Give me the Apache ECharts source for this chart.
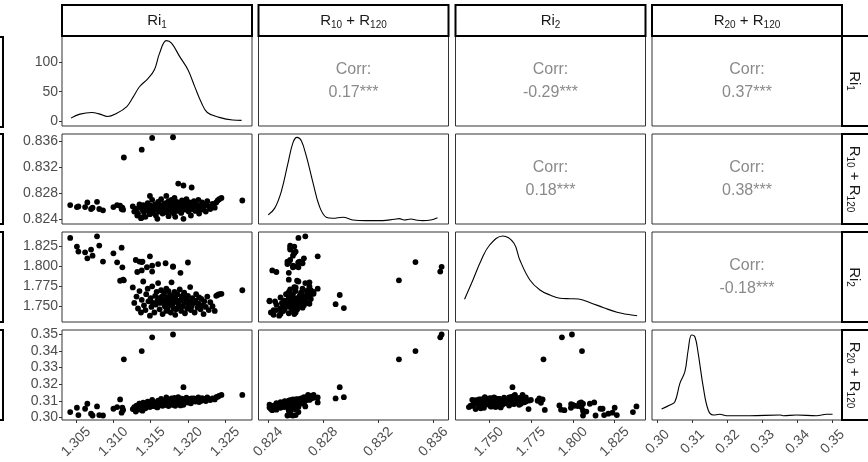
<!DOCTYPE html>
<html><head><meta charset="utf-8">
<script src="https://cdn.jsdelivr.net/npm/echarts@6/dist/echarts.min.js"></script>
<style>html,body{margin:0;padding:0;background:#fff}#c{width:868px;height:462px}</style>
</head><body><div id="c"></div>
<script>
// ---- observations (each index = one observation) ----
const ri1 = [
 1.3042,1.3051,1.3053,1.3062,1.3065,1.3070,1.3072,1.3078,1.3081,1.3086,
 1.3100,1.3105,1.3111,1.3112,1.3109,1.3113,1.3126,1.3130,1.3135,1.3139,1.3149,1.3132,1.3138,1.3145,1.3152,1.3160,1.3170,1.3180,1.3200,1.3190,
 1.3128,1.3131,1.3133,1.3135,1.3137,1.3138,1.3140,1.3141,1.3143,1.3144,1.3146,1.3147,1.3149,1.3150,1.3151,1.3152,1.3153,1.3155,1.3156,1.3157,
 1.3158,1.3159,1.3160,1.3161,1.3162,1.3163,1.3164,1.3165,1.3166,1.3167,1.3168,1.3169,1.3170,1.3171,1.3171,1.3172,1.3173,1.3174,1.3174,1.3175,
 1.3176,1.3176,1.3177,1.3178,1.3178,1.3179,1.3180,1.3181,1.3181,1.3182,1.3183,1.3183,1.3184,1.3185,1.3186,1.3187,1.3188,1.3189,1.3190,1.3191,
 1.3192,1.3193,1.3194,1.3195,1.3196,1.3197,1.3198,1.3199,1.3200,1.3201,1.3202,1.3203,1.3204,1.3205,1.3206,1.3208,1.3209,1.3210,1.3211,1.3213,
 1.3214,1.3215,1.3217,1.3218,1.3219,1.3221,1.3222,1.3224,1.3226,1.3228,1.3230,1.3233,1.3236,1.3238,1.3240,1.3242,1.3245,1.3273,
 1.3114,1.3138,1.3152,1.3180,1.3194,1.3187,1.3205
];
const r10 = [
 0.8262,0.8259,0.8260,0.8259,0.8266,0.8256,0.8258,0.8267,0.8256,0.8254,
 0.8259,0.8262,0.8256,0.8258,0.8261,0.8255,0.8260,0.8256,0.8263,0.8255,0.8276,0.8246,0.8243,0.8262,0.8258,0.8254,0.8265,0.8259,0.8262,0.8255,
 0.8252,0.8255,0.8249,0.8260,0.8242,0.8257,0.8262,0.8251,0.8244,0.8258,0.8265,0.8253,0.8248,0.8261,0.8256,0.8270,0.8250,0.8259,0.8263,0.8246,
 0.8255,0.8241,0.8267,0.8258,0.8252,0.8262,0.8271,0.8256,0.8249,0.8260,0.8264,0.8254,0.8258,0.8276,0.8251,0.8263,0.8257,0.8268,0.8245,0.8261,
 0.8255,0.8266,0.8259,0.8252,0.8270,0.8262,0.8256,0.8249,0.8264,0.8273,0.8258,0.8244,0.8261,0.8267,0.8253,0.8259,0.8265,0.8256,0.8262,0.8250,
 0.8269,0.8258,0.8241,0.8264,0.8255,0.8260,0.8271,0.8257,0.8263,0.8252,0.8266,0.8259,0.8246,0.8262,0.8256,0.8268,0.8260,0.8253,0.8264,0.8257,
 0.8270,0.8249,0.8261,0.8255,0.8266,0.8259,0.8263,0.8252,0.8268,0.8260,0.8256,0.8264,0.8258,0.8266,0.8269,0.8271,0.8273,0.8269,
 0.8335,0.8347,0.8365,0.8366,0.8292,0.8295,0.8289
];
const ri2 = [
 1.8359,1.8250,1.8187,1.8178,1.8102,1.8212,1.8136,1.8380,1.8263,1.8061,
 1.8165,1.8052,1.8237,1.7989,1.7820,1.7833,1.7736,1.8081,1.8061,1.8061,1.8128,1.7930,1.7950,1.7990,1.8010,1.8030,1.8040,1.8000,1.8050,1.7920,
 1.7540,1.7620,1.7470,1.7690,1.7420,1.7580,1.7810,1.7510,1.7450,1.7650,1.7720,1.7560,1.7380,1.7600,1.7490,1.7750,1.7540,1.7420,1.7630,1.7520,
 1.7680,1.7570,1.7790,1.7600,1.7460,1.7540,1.7700,1.7620,1.7400,1.7580,1.7660,1.7500,1.7550,1.7720,1.7440,1.7610,1.7480,1.7690,1.7560,1.7530,
 1.7640,1.7590,1.7420,1.7570,1.7800,1.7510,1.7620,1.7470,1.7550,1.7680,1.7600,1.7390,1.7460,1.7570,1.7650,1.7530,1.7480,1.7710,1.7580,1.7440,
 1.7620,1.7500,1.7560,1.7670,1.7410,1.7540,1.7590,1.7470,1.7630,1.7520,1.7560,1.7740,1.7450,1.7500,1.7600,1.7540,1.7420,1.7570,1.7650,1.7480,
 1.7530,1.7610,1.7460,1.7590,1.7510,1.7400,1.7560,1.7490,1.7620,1.7450,1.7550,1.7500,1.7440,1.7630,1.7640,1.7650,1.7655,1.7700,
 1.7825,1.8055,1.7935,1.7995,1.7640,1.7475,1.7525
];
const r20 = [
 0.3032,0.3058,0.3014,0.3052,0.3082,0.3022,0.3011,0.3066,0.3014,0.3011,
 0.3052,0.3062,0.3028,0.3058,0.3108,0.3045,0.3050,0.3035,0.3082,0.3040,0.3090,0.3046,0.3043,0.3080,0.3070,0.3068,0.3085,0.3075,0.3090,0.3072,
 0.3062,0.3071,0.3058,0.3082,0.3050,0.3076,0.3088,0.3065,0.3055,0.3080,0.3095,0.3070,0.3062,0.3085,0.3078,0.3105,0.3068,0.3082,0.3090,0.3066,
 0.3076,0.3060,0.3100,0.3088,0.3073,0.3093,0.3112,0.3082,0.3070,0.3090,0.3098,0.3078,0.3087,0.3120,0.3075,0.3097,0.3085,0.3107,0.3068,0.3095,
 0.3083,0.3104,0.3091,0.3080,0.3114,0.3099,0.3088,0.3077,0.3102,0.3118,0.3092,0.3070,0.3098,0.3108,0.3086,0.3095,0.3106,0.3091,0.3101,0.3082,
 0.3113,0.3096,0.3076,0.3107,0.3092,0.3100,0.3119,0.3097,0.3107,0.3090,0.3111,0.3101,0.3085,0.3106,0.3098,0.3115,0.3104,0.3095,0.3110,0.3102,
 0.3120,0.3092,0.3108,0.3100,0.3116,0.3106,0.3112,0.3098,0.3120,0.3109,0.3104,0.3115,0.3108,0.3122,0.3125,0.3130,0.3135,0.3135,
 0.3350,0.3400,0.3483,0.3500,0.3182,0.3122,0.3114
];

// ---- diagonal density curves ----
const densRi1X = [1.3043,1.3055,1.3071,1.3082,1.3092,1.3104,1.3118,1.3126,1.3135,1.3146,1.3155,1.3162,1.3171,1.3178,1.3189,1.3200,1.3209,1.3218,1.3226,1.3242,1.3260,1.3272];
const densRi1Y = [5.5,12.2,15,12.2,8.3,13.3,25,40,58.3,71.7,87,115,136,131.7,109,87,59,31.7,15,6.7,2.2,1.7];
const densR10X = [0.8240,0.82448,0.82496,0.82545,0.82581,0.8261,0.82641,0.82677,0.82726,0.82773,0.82822,0.8287,0.82942,0.83015,0.8311,0.83232,0.83316,0.83352,0.83388,0.83437,0.83473,0.83521,0.83581,0.8363];
const densR10Y = [9,15.7,32.3,60.7,80.7,85.7,82.3,67.3,40.7,17.3,6.7,5.7,6.7,4,3.3,3.3,4.7,5.3,4,5,4,3.3,4,6.3];
const densRi2X = [1.7354,1.7404,1.7454,1.7504,1.7582,1.7648,1.7684,1.7744,1.7804,1.7864,1.7924,1.7984,1.8034,1.8104,1.8184,1.8264,1.8324,1.8384];
const densRi2Y = [22.7,42,62,77,86,79,62,42,32,27,23.7,23.3,23,19.3,14.3,9.7,7.7,6.3];
const densR20X = [0.30114,0.30351,0.30494,0.30637,0.3078,0.30874,0.30971,0.31066,0.3116,0.31303,0.31446,0.31589,0.3178,0.31971,0.32637,0.33494,0.33589,0.33971,0.34543,0.34829,0.35];
const densR20Y = [11,15,18.3,36.7,48.3,70,85,83.3,66.7,33.3,10,5,5.7,4.3,4.3,5,4.3,5,4.3,5.7,5.7];

// ---- labels ----
const stripLabels = ['{n|Ri}{s|1}', '{n|R}{s|10}{n| + R}{s|120}', '{n|Ri}{s|2}', '{n|R}{s|20}{n| + R}{s|120}'];
const corrText = ['0.17***', '-0.29***', '0.37***', '0.18***', '0.38***', '-0.18***']; // (1,2),(1,3),(1,4),(2,3),(2,4),(3,4)
const tickValues = [[1.305,1.310,1.315,1.320,1.325],[0.824,0.828,0.832,0.836],[1.750,1.775,1.800,1.825],[0.30,0.31,0.32,0.33,0.34,0.35]];
const densTicks = [0, 50, 100];

// ---- layout / styling ----
const vars = [ri1, r10, ri2, r20];
const densX = [densRi1X, densR10X, densRi2X, densR20X];
const densY = [densRi1Y, densR10Y, densRi2Y, densR20Y];
const axisRanges = [[1.3031,1.3286],[0.8233,0.8371],[1.7300,1.8434],[0.2984,0.3527]];
const densRanges = [[-7.8,143.8],[0,89],[0,90],[0,90]];
const tickDecimals = [3,3,3,2];
const colX = [62, 258.5, 455.5, 652];
const rowY = [36, 134, 232, 330];
const PW = 190, PH = 90;
const FONT = '"Liberation Sans", Arial, sans-serif';
const labelColor = '#4d4d4d';

const grids = [], xAxes = [], yAxes = [], series = [], graphics = [];
let corrIdx = 0;
const richStrip = {
  n: {fontSize: 15, lineHeight: 19, fontFamily: FONT, fill: '#1a1a1a'},
  s: {fontSize: 10, lineHeight: 10, verticalAlign: 'bottom', fontFamily: FONT, fill: '#1a1a1a'}
};
for (let r = 0; r < 4; r++) {
  for (let c = 0; c < 4; c++) {
    const gi = r * 4 + c;
    grids.push({left: colX[c], top: rowY[r], width: PW, height: PH, show: true,
      borderColor: '#333', borderWidth: 1, backgroundColor: '#fff', containLabel: false});
    const showX = (r === 3);
    xAxes.push({type: 'value', gridIndex: gi, min: axisRanges[c][0], max: axisRanges[c][1],
      splitLine: {show: false}, axisLine: {show: false},
      axisTick: {show: showX, length: 3, lineStyle: {color: '#333'}, customValues: tickValues[c]},
      axisLabel: {show: showX, rotate: 45, margin: 22, align: 'center', verticalAlign: 'middle',
        color: labelColor, fontSize: 14, fontFamily: FONT,
        customValues: tickValues[c], formatter: v => Number(v).toFixed(tickDecimals[c])}});
    if (r === c) {
      const showY = (r === 0);
      yAxes.push({type: 'value', gridIndex: gi, min: densRanges[r][0], max: densRanges[r][1],
        splitLine: {show: false}, axisLine: {show: false},
        axisTick: {show: showY, length: 3, lineStyle: {color: '#333'}, customValues: densTicks},
        axisLabel: {show: showY, margin: 4, color: labelColor, fontSize: 14, fontFamily: FONT,
          customValues: densTicks, formatter: v => String(v)}});
      series.push({type: 'line', xAxisIndex: gi, yAxisIndex: gi, smooth: 0.4, showSymbol: false,
        lineStyle: {color: '#000', width: 1.1}, silent: true,
        data: densX[r].map((x, i) => [x, densY[r][i]])});
    } else {
      const showY = (c === 0);
      yAxes.push({type: 'value', gridIndex: gi, min: axisRanges[r][0], max: axisRanges[r][1],
        splitLine: {show: false}, axisLine: {show: false},
        axisTick: {show: showY, length: 3, lineStyle: {color: '#333'}, customValues: tickValues[r]},
        axisLabel: {show: showY, margin: 4, color: labelColor, fontSize: 14, fontFamily: FONT,
          customValues: tickValues[r], formatter: v => Number(v).toFixed(tickDecimals[r])}});
      if (r > c) {
        series.push({type: 'scatter', xAxisIndex: gi, yAxisIndex: gi, symbolSize: 5.8, silent: true,
          itemStyle: {color: '#000', opacity: 1},
          data: vars[c].map((x, i) => [x, vars[r][i]])});
      } else {
        const cx = colX[c] + PW / 2, cy = rowY[r] + PH / 2;
        graphics.push({type: 'text', x: cx, y: cy - 11.5, z: 10, style: {text: 'Corr:', fill: '#8a8a8a',
          font: '16px ' + FONT, textAlign: 'center', textVerticalAlign: 'middle'}});
        graphics.push({type: 'text', x: cx, y: cy + 11.5, z: 10, style: {text: corrText[corrIdx++], fill: '#8a8a8a',
          font: '16px ' + FONT, textAlign: 'center', textVerticalAlign: 'middle'}});
      }
    }
  }
}
// strips
for (let c = 0; c < 4; c++) {
  graphics.push({type: 'rect', z: 5, shape: {x: colX[c], y: 5, width: PW, height: 31},
    style: {fill: '#fff', stroke: '#000', lineWidth: 2}});
  graphics.push({type: 'text', z: 6, x: colX[c] + PW / 2, y: 21,
    style: {text: stripLabels[c], rich: richStrip, textAlign: 'center', textVerticalAlign: 'middle'}});
}
for (let r = 0; r < 4; r++) {
  graphics.push({type: 'rect', z: 5, shape: {x: 842, y: rowY[r], width: 40, height: PH},
    style: {fill: '#fff', stroke: '#000', lineWidth: 2}});
  graphics.push({type: 'text', z: 6, x: 854, y: rowY[r] + PH / 2, rotation: -Math.PI / 2,
    style: {text: stripLabels[r], rich: richStrip, textAlign: 'center', textVerticalAlign: 'middle'}});
  // cut-off strips at the far left
  graphics.push({type: 'rect', z: 5, shape: {x: -20, y: r === 0 ? 37 : rowY[r], width: 23, height: PH},
    style: {fill: '#fff', stroke: '#000', lineWidth: 2}});
}

const chart = echarts.init(document.getElementById('c'), null, {renderer: 'canvas'});
chart.setOption({
  animation: false,
  backgroundColor: '#fff',
  grid: grids, xAxis: xAxes, yAxis: yAxes, series: series,
  graphic: graphics
});
</script></body></html>
